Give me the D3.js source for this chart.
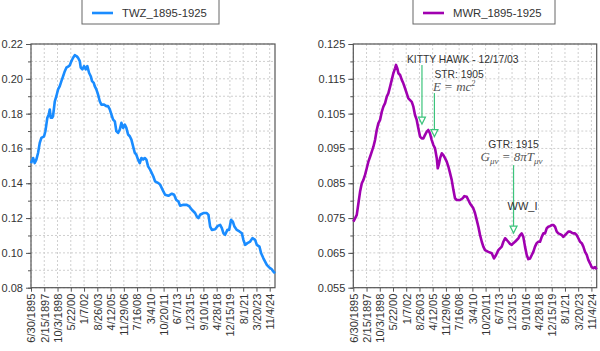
<!DOCTYPE html>
<html>
<head>
<meta charset="utf-8">
<script src="https://cdn.jsdelivr.net/npm/d3@7"></script>
<style>
  body { margin: 0; background: #fff; }
  svg { display: block; font-family: "Liberation Sans", Arial, sans-serif; }
</style>
</head>
<body>
<svg id="chart" width="600" height="351"></svg>
<script>
// tick labels on the date axis (same for both panels)
const xTickLabels = ["6/30/1895", "2/15/1897", "10/3/1898", "5/22/00", "1/7/02", "8/26/03",
  "4/12/05", "11/29/06", "7/16/08", "3/4/10", "10/20/11", "6/7/13", "1/23/15", "9/10/16",
  "4/28/18", "12/15/19", "8/1/21", "3/20/23", "11/4/24"];
const xStart = "6/30/1895";
const xEnd = "6/30/25";

// [decimal year, value]
const twzPoints = [
  [1895.50, 0.1515], [1895.75, 0.1545], [1895.95, 0.1516], [1896.15, 0.1536], [1896.36, 0.1574],
  [1896.57, 0.1632], [1896.77, 0.1661], [1897.10, 0.1670], [1897.26, 0.1699], [1897.38, 0.1737],
  [1897.50, 0.1776], [1897.68, 0.1795], [1897.80, 0.1824], [1897.92, 0.1776], [1898.08, 0.1776],
  [1898.20, 0.1785], [1898.42, 0.1871], [1898.61, 0.1900], [1898.82, 0.1939], [1899.03, 0.1958],
  [1899.23, 0.1987], [1899.44, 0.2015], [1899.65, 0.2044], [1899.84, 0.2064], [1900.05, 0.2070],
  [1900.26, 0.2077], [1900.46, 0.2102], [1900.67, 0.2121], [1900.88, 0.2136], [1901.07, 0.2131],
  [1901.28, 0.2121], [1901.49, 0.2102], [1901.61, 0.2064], [1901.81, 0.2054], [1902.02, 0.2073],
  [1902.23, 0.2054], [1902.42, 0.2073], [1902.63, 0.2035], [1902.84, 0.2015], [1903.00, 0.1987],
  [1903.21, 0.1977], [1903.33, 0.1958], [1903.53, 0.1939], [1903.74, 0.1910], [1903.95, 0.1871],
  [1904.15, 0.1852], [1904.48, 0.1852], [1904.76, 0.1843], [1904.97, 0.1843], [1905.18, 0.1824],
  [1905.38, 0.1795], [1905.59, 0.1766], [1905.80, 0.1756], [1905.99, 0.1699], [1906.20, 0.1689],
  [1906.41, 0.1708], [1906.61, 0.1747], [1906.82, 0.1718], [1907.03, 0.1737], [1907.22, 0.1718],
  [1907.43, 0.1680], [1907.64, 0.1670], [1907.84, 0.1651], [1908.05, 0.1612], [1908.26, 0.1574],
  [1908.45, 0.1564], [1908.66, 0.1536], [1908.87, 0.1516], [1909.07, 0.1545], [1909.28, 0.1536],
  [1909.49, 0.1545], [1909.68, 0.1536], [1909.89, 0.1497], [1910.14, 0.1478], [1910.54, 0.1439],
  [1910.75, 0.1411], [1911.16, 0.1401], [1911.37, 0.1392], [1911.77, 0.1353], [1911.98, 0.1334],
  [1912.39, 0.1328], [1912.81, 0.1340], [1913.09, 0.1334], [1913.34, 0.1305], [1913.62, 0.1295],
  [1913.83, 0.1271], [1914.23, 0.1276], [1914.65, 0.1276], [1914.97, 0.1267], [1915.27, 0.1248],
  [1915.67, 0.1229], [1915.88, 0.1209], [1916.08, 0.1200], [1916.29, 0.1219], [1916.69, 0.1229],
  [1917.11, 0.1229], [1917.31, 0.1219], [1917.52, 0.1151], [1917.73, 0.1132], [1918.13, 0.1136],
  [1918.46, 0.1155], [1918.75, 0.1161], [1918.96, 0.1142], [1919.15, 0.1113], [1919.36, 0.1104],
  [1919.64, 0.1132], [1919.85, 0.1132], [1920.10, 0.1190], [1920.31, 0.1180], [1920.51, 0.1151],
  [1920.80, 0.1132], [1921.12, 0.1123], [1921.42, 0.1113], [1921.61, 0.1075], [1921.82, 0.1046],
  [1922.10, 0.1056], [1922.44, 0.1065], [1922.72, 0.1085], [1923.05, 0.1075], [1923.26, 0.1046],
  [1923.58, 0.1036], [1923.79, 0.0998], [1924.07, 0.0969], [1924.28, 0.0950], [1924.49, 0.0931],
  [1924.69, 0.0921], [1924.90, 0.0912], [1925.10, 0.0906], [1925.30, 0.0892], [1925.50, 0.0883]
];

const mwrPoints = [
  [1895.50, 0.0740], [1895.71, 0.0749], [1895.92, 0.0759], [1896.12, 0.0792], [1896.33, 0.0826],
  [1896.54, 0.0850], [1896.73, 0.0859], [1896.94, 0.0874], [1897.15, 0.0893], [1897.35, 0.0912],
  [1897.56, 0.0926], [1897.77, 0.0941], [1897.97, 0.0955], [1898.17, 0.0974], [1898.38, 0.1003],
  [1898.58, 0.1022], [1898.79, 0.1032], [1899.00, 0.1055], [1899.20, 0.1070], [1899.41, 0.1080],
  [1899.62, 0.1099], [1899.81, 0.1108], [1900.02, 0.1127], [1900.23, 0.1147], [1900.43, 0.1166],
  [1900.64, 0.1180], [1900.76, 0.1190], [1900.92, 0.1180], [1901.05, 0.1166], [1901.26, 0.1161],
  [1901.47, 0.1147], [1901.66, 0.1137], [1901.87, 0.1123], [1902.08, 0.1108], [1902.28, 0.1094],
  [1902.49, 0.1089], [1902.70, 0.1084], [1902.90, 0.1070], [1903.10, 0.1046], [1903.31, 0.1032],
  [1903.51, 0.1008], [1903.72, 0.0984], [1903.93, 0.0979], [1904.13, 0.0979], [1904.34, 0.0989],
  [1904.55, 0.0998], [1904.74, 0.1003], [1904.95, 0.0993], [1905.16, 0.0974], [1905.36, 0.0960],
  [1905.57, 0.0950], [1905.78, 0.0922], [1905.90, 0.0893], [1906.02, 0.0902], [1906.19, 0.0922],
  [1906.40, 0.0936], [1906.59, 0.0931], [1906.80, 0.0922], [1907.01, 0.0912], [1907.21, 0.0898],
  [1907.42, 0.0879], [1907.63, 0.0859], [1907.83, 0.0831], [1908.03, 0.0807], [1908.24, 0.0802],
  [1908.65, 0.0802], [1908.98, 0.0807], [1909.18, 0.0813], [1909.48, 0.0811], [1909.67, 0.0802],
  [1909.88, 0.0792], [1910.29, 0.0778], [1910.50, 0.0764], [1910.71, 0.0744], [1910.91, 0.0725],
  [1911.12, 0.0701], [1911.33, 0.0682], [1911.52, 0.0668], [1911.73, 0.0658], [1912.14, 0.0653],
  [1912.56, 0.0649], [1912.84, 0.0634], [1913.09, 0.0644], [1913.37, 0.0658], [1913.58, 0.0663],
  [1913.79, 0.0668], [1913.99, 0.0682], [1914.20, 0.0692], [1914.41, 0.0687], [1914.60, 0.0682],
  [1914.81, 0.0676], [1915.02, 0.0673], [1915.22, 0.0678], [1915.43, 0.0682], [1915.64, 0.0687],
  [1915.84, 0.0692], [1916.05, 0.0701], [1916.25, 0.0706], [1916.45, 0.0696], [1916.66, 0.0668],
  [1916.87, 0.0644], [1917.07, 0.0632], [1917.28, 0.0634], [1917.49, 0.0644], [1917.68, 0.0653],
  [1917.89, 0.0668], [1918.10, 0.0678], [1918.30, 0.0682], [1918.51, 0.0682], [1918.72, 0.0696],
  [1918.92, 0.0706], [1919.13, 0.0706], [1919.34, 0.0721], [1919.53, 0.0725], [1919.74, 0.0727],
  [1919.95, 0.0730], [1920.15, 0.0730], [1920.36, 0.0725], [1920.57, 0.0711], [1920.77, 0.0706],
  [1920.98, 0.0704], [1921.19, 0.0701], [1921.38, 0.0696], [1921.59, 0.0701], [1921.80, 0.0706],
  [1922.00, 0.0711], [1922.21, 0.0711], [1922.42, 0.0708], [1922.61, 0.0706], [1922.82, 0.0706],
  [1923.03, 0.0701], [1923.23, 0.0692], [1923.44, 0.0682], [1923.65, 0.0678], [1923.85, 0.0668],
  [1924.06, 0.0653], [1924.27, 0.0644], [1924.46, 0.0630], [1924.67, 0.0620], [1924.88, 0.0609],
  [1925.08, 0.0606], [1925.29, 0.0609], [1925.50, 0.0603]
];

const twzYTicks = [0.08, 0.10, 0.12, 0.14, 0.16, 0.18, 0.20, 0.22];
const twzYGrid = d3.range(0, 15).map((i) => +(0.08 + i * 0.01).toFixed(3));
const mwrYTicks = [0.055, 0.065, 0.075, 0.085, 0.095, 0.105, 0.115, 0.125];
const mwrYGrid = d3.range(0, 15).map((i) => +(0.055 + i * 0.005).toFixed(4));

// annotation arrows on the MWR panel: date, arrow top value, arrow tip value
const kittyHawk = { date: "12/17/03", top: 0.1190, tip: 0.1020 };
const strArrow = { date: "6/30/05", top: 0.1109, tip: 0.0984 };
const gtrArrow = { date: "4/1/15", top: 0.0902, tip: 0.0707, wwiValue: 0.0773 };

function parseLabel(s) {
  const [m, d, y] = s.split("/").map(Number);
  return new Date(y < 100 ? 1900 + y : y, m - 1, d);
}

function yearToDate(yr) {
  const y = Math.floor(yr);
  return new Date(+new Date(y, 0, 1) + (yr - y) * 365.25 * 864e5);
}

const svg = d3.select("#chart");
const plotTop = 44;
const plotBottom = 287.7;
const green = "#3cc47c";

function drawPanel(cfg) {
  const g = svg.append("g");

  const x = d3.scaleTime()
    .domain([parseLabel(xStart), parseLabel(xEnd)])
    .range([cfg.x0, cfg.x1]);
  const y = d3.scaleLinear().domain(cfg.yDomain).range([plotBottom, plotTop]);
  const tickDates = xTickLabels.map(parseLabel);

  // grid
  g.append("g")
    .selectAll("line")
    .data(tickDates)
    .enter()
    .append("line")
    .attr("x1", (d) => x(d))
    .attr("x2", (d) => x(d))
    .attr("y1", plotTop)
    .attr("y2", plotBottom)
    .attr("stroke", "#cfcfcf")
    .attr("stroke-dasharray", "2,2");

  g.append("g")
    .selectAll("line")
    .data(cfg.yGrid)
    .enter()
    .append("line")
    .attr("x1", cfg.x0)
    .attr("x2", cfg.x1)
    .attr("y1", (d) => y(d))
    .attr("y2", (d) => y(d))
    .attr("stroke", "#cfcfcf")
    .attr("stroke-dasharray", "2,2");

  // y axis
  const yAxis = g.append("g")
    .attr("transform", `translate(${cfg.x0},0)`)
    .call(d3.axisLeft(y).tickValues(cfg.yTicks).tickFormat(d3.format(cfg.fmt)).tickSize(5).tickPadding(3));
  g.append("g")
    .attr("transform", `translate(${cfg.x0},0)`)
    .call(d3.axisLeft(y).tickValues(cfg.yGrid).tickFormat("").tickSize(3))
    .select(".domain").remove();
  yAxis.select(".domain").remove();
  yAxis.selectAll("text").style("font-size", "11px").style("fill", "#333");

  // x axis
  const xAxis = g.append("g")
    .attr("transform", `translate(0,${plotBottom})`)
    .call(d3.axisBottom(x).tickValues(tickDates).tickFormat((d, i) => xTickLabels[i]).tickSize(4));
  xAxis.select(".domain").remove();
  xAxis.selectAll("text")
    .attr("transform", "rotate(-90)")
    .attr("text-anchor", "end")
    .attr("x", -6)
    .attr("y", 0)
    .attr("dy", "0.35em")
    .style("font-size", "11px")
    .style("fill", "#333");

  g.selectAll(".tick line").attr("stroke", "#555");

  // frame
  g.append("rect")
    .attr("x", cfg.x0)
    .attr("y", plotTop)
    .attr("width", cfg.x1 - cfg.x0)
    .attr("height", plotBottom - plotTop)
    .attr("fill", "none")
    .attr("stroke", "#555")
    .attr("stroke-width", 1.2);

  // series
  const line = d3.line()
    .x((d) => x(yearToDate(d[0])))
    .y((d) => y(d[1]))
    .curve(d3.curveLinear);

  g.append("path")
    .datum(cfg.points)
    .attr("d", line)
    .attr("fill", "none")
    .attr("stroke", cfg.color)
    .attr("stroke-width", 2.6)
    .attr("stroke-linejoin", "round");

  // legend
  const lg = g.append("g");
  lg.append("rect")
    .attr("x", cfg.legend.x0)
    .attr("y", -1)
    .attr("width", cfg.legend.x1 - cfg.legend.x0)
    .attr("height", 25)
    .attr("fill", "#fff")
    .attr("stroke", "#666");
  lg.append("line")
    .attr("x1", cfg.legend.x0 + 10)
    .attr("x2", cfg.legend.x0 + 31)
    .attr("y1", 13)
    .attr("y2", 13)
    .attr("stroke", cfg.color)
    .attr("stroke-width", 2.6);
  lg.append("text")
    .attr("x", cfg.legend.x0 + 40)
    .attr("y", 17)
    .style("font-size", "11.3px")
    .style("fill", "#333")
    .text(cfg.name);

  return { g, x, y };
}

drawPanel({
  x0: 31, x1: 275,
  yDomain: [0.08, 0.22], yTicks: twzYTicks, yGrid: twzYGrid, fmt: ".2f",
  points: twzPoints, color: "#1a8cff", name: "TWZ_1895-1925",
  legend: { x0: 82, x1: 219 }
});

const right = drawPanel({
  x0: 353.3, x1: 596.7,
  yDomain: [0.055, 0.125], yTicks: mwrYTicks, yGrid: mwrYGrid, fmt: ".3f",
  points: mwrPoints, color: "#a000b0", name: "MWR_1895-1925",
  legend: { x0: 413, x1: 555 }
});

// annotations
function arrow(a) {
  const ax = right.x(parseLabel(a.date));
  const y0 = right.y(a.top);
  const y1 = right.y(a.tip);
  right.g.append("line")
    .attr("x1", ax).attr("x2", ax)
    .attr("y1", y0).attr("y2", y1 - 7)
    .attr("stroke", green).attr("stroke-width", 1.2);
  right.g.append("path")
    .attr("d", `M${ax - 3.5},${y1 - 7}L${ax + 3.5},${y1 - 7}L${ax},${y1}Z`)
    .attr("fill", "#fff")
    .attr("stroke", green)
    .attr("stroke-width", 1.2);
  return { ax, y0 };
}

const labelStyle = (t) => t.style("font-size", "10.3px").style("fill", "#333");
const mathStyle = (t) => t
  .style("font-family", "'Liberation Serif', 'Times New Roman', serif")
  .style("font-style", "italic")
  .style("font-size", "13px")
  .style("fill", "#555");

const kh = arrow(kittyHawk);
right.g.append("text")
  .attr("x", kh.ax - 15).attr("y", kh.y0 - 2)
  .call(labelStyle)
  .text("KITTY HAWK - 12/17/03");

const st = arrow(strArrow);
right.g.append("text")
  .attr("x", st.ax).attr("y", st.y0 - 15)
  .call(labelStyle)
  .text("STR: 1905");
const emc = right.g.append("text")
  .attr("x", st.ax - 1.5).attr("y", st.y0 - 2)
  .call(mathStyle);
emc.append("tspan").text("E = mc");
emc.append("tspan").attr("dy", -5).style("font-size", "8px").text("2");

const gt = arrow(gtrArrow);
right.g.append("text")
  .attr("x", gt.ax).attr("y", gt.y0 - 17)
  .attr("text-anchor", "middle")
  .call(labelStyle)
  .text("GTR: 1915");
const ein = right.g.append("text")
  .attr("x", gt.ax - 2).attr("y", gt.y0 - 4)
  .attr("text-anchor", "middle")
  .call(mathStyle);
ein.append("tspan").text("G");
ein.append("tspan").attr("dy", 3).style("font-size", "9px").text("μν");
ein.append("tspan").attr("dy", -3).text(" = 8πT");
ein.append("tspan").attr("dy", 3).style("font-size", "9px").text("μν");

right.g.append("text")
  .attr("x", gt.ax - 6).attr("y", right.y(gtrArrow.wwiValue))
  .call(labelStyle)
  .style("font-size", "11px")
  .text("WW_I");
</script>
</body>
</html>
